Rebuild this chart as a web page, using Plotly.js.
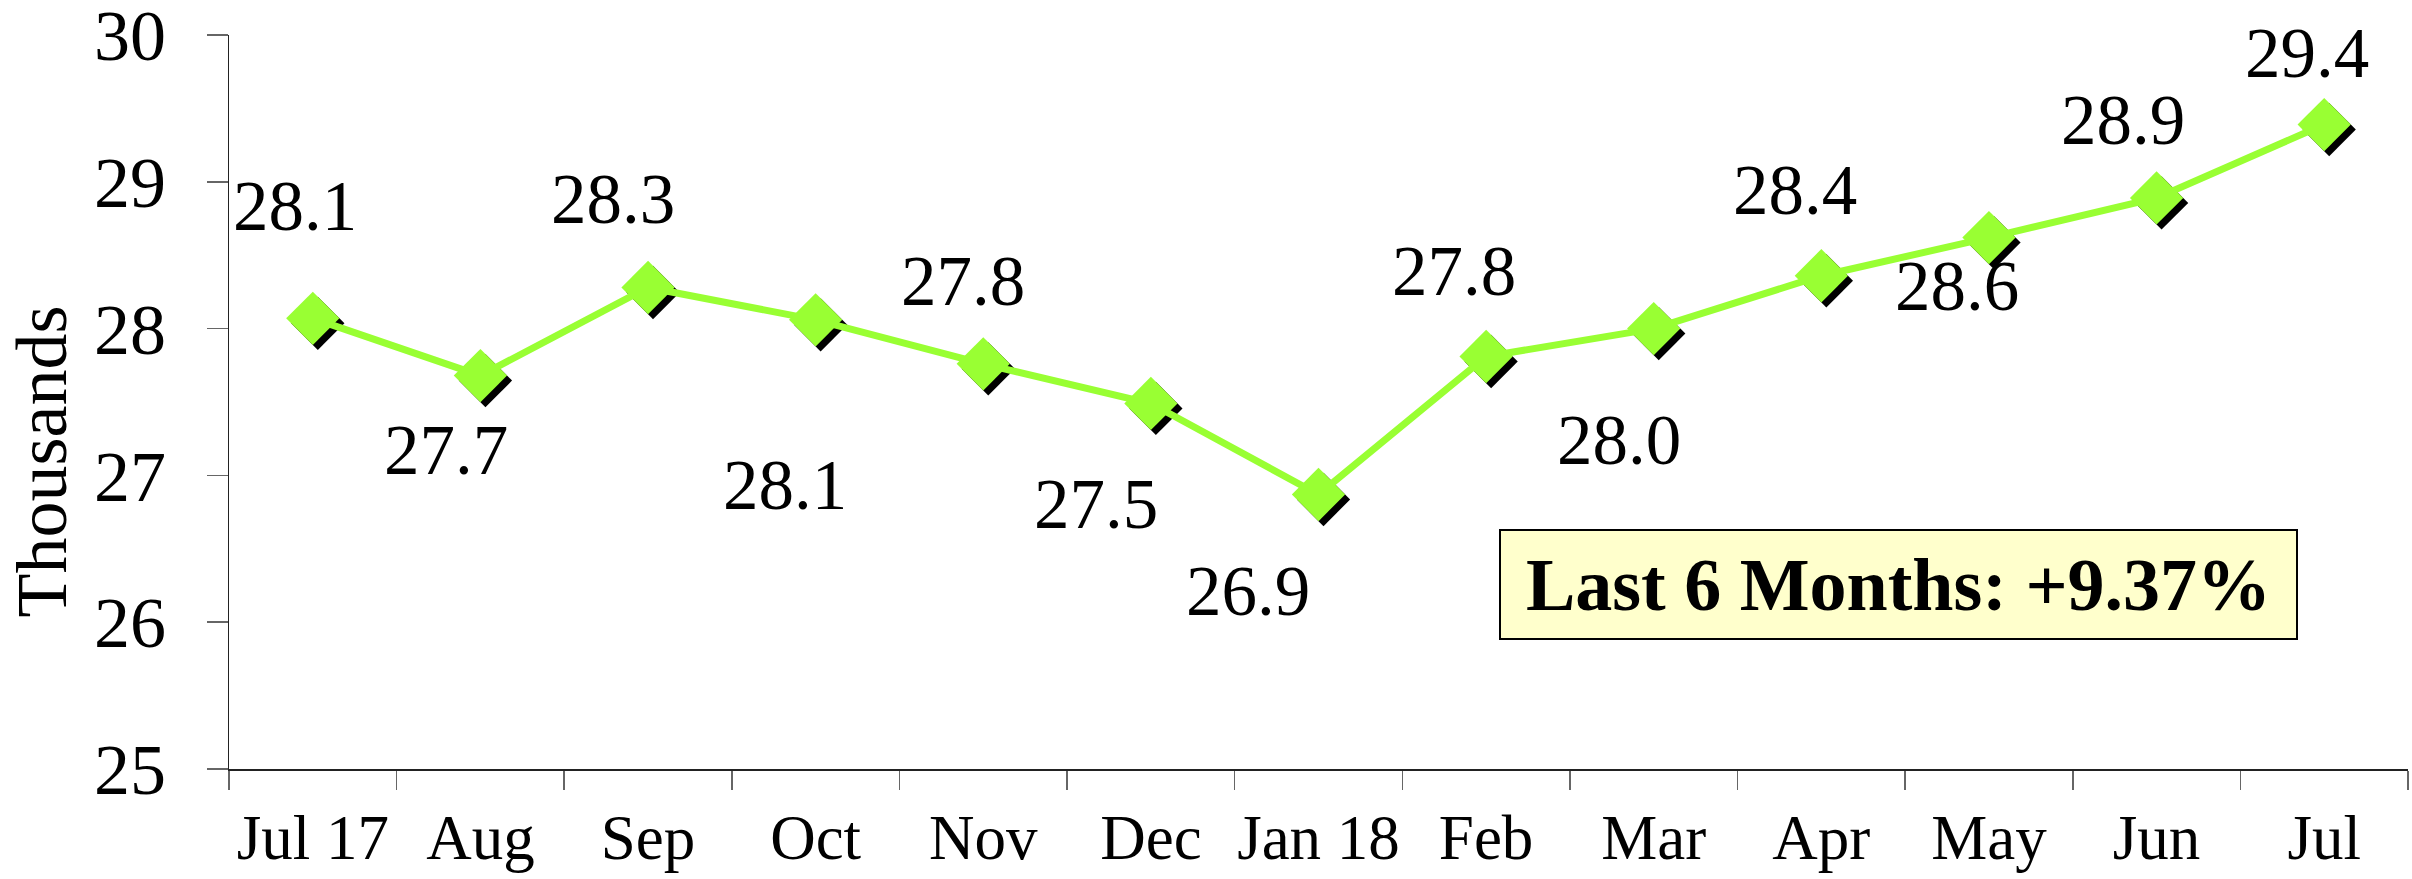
<!DOCTYPE html>
<html>
<head>
<meta charset="utf-8">
<script src="https://cdn.plot.ly/plotly-3.0.1.min.js"></script>
<style>
  html, body { margin: 0; padding: 0; background: #ffffff; }
  #chart { width: 2412px; height: 879px; }
</style>
</head>
<body>
<div id="chart"></div>
<script>
// ---- data ----
const months = ['Jul 17', 'Aug', 'Sep', 'Oct', 'Nov', 'Dec', 'Jan 18', 'Feb', 'Mar', 'Apr', 'May', 'Jun', 'Jul'];
const values = [28.07, 27.68, 28.28, 28.06, 27.76, 27.49, 26.87, 27.81, 28.00, 28.36, 28.62, 28.89, 29.39];
const valueLabels = ['28.1', '27.7', '28.3', '28.1', '27.8', '27.5', '26.9', '27.8', '28.0', '28.4', '28.6', '28.9', '29.4'];
const yTickVals = [25, 26, 27, 28, 29, 30];
const yTitle = 'Thousands';
const summaryText = 'Last 6 Months: +9.37%';

// ---- styling (label offsets in px: [dx, dy], dy positive = downward) ----
const labelOffsets = [[-18, -112], [-34, 74], [-35, -89], [-31, 165], [-20, -83], [-55, 101], [-71, 97],
                      [-32, -85], [-35, 111], [-26, -86], [-32, 48], [-34, -78], [-17, -72]];
const FONT = 'Liberation Serif, Times New Roman, serif';
const GREEN = '#99FF33';
const W = 2412, H = 879;
const M = { l: 229, r: 4, t: 35, b: 110 };
const plotW = W - M.l - M.r, plotH = H - M.t - M.b;
const xRange = [-0.5, months.length - 0.5];
const yRange = [25, 30];
const shadowPx = 5;
const xShift = shadowPx * (xRange[1] - xRange[0]) / plotW;
const yShift = shadowPx * (yRange[1] - yRange[0]) / plotH;

// invisible trace so the base (tick-bearing) axes are drawn
const base = {
  x: months, y: values, xaxis: 'x', yaxis: 'y',
  type: 'scatter', mode: 'markers', hoverinfo: 'skip',
  marker: { size: 1, opacity: 0 }
};
const shadow = {
  x: months, y: values, xaxis: 'x2', yaxis: 'y2',
  type: 'scatter', mode: 'markers', cliponaxis: false, hoverinfo: 'skip',
  marker: { symbol: 'diamond', size: 41, color: '#000000', line: { width: 0 } }
};
const main = {
  x: months, y: values, xaxis: 'x3', yaxis: 'y3',
  type: 'scatter', mode: 'lines+markers', cliponaxis: false,
  line: { color: GREEN, width: 7 },
  marker: { symbol: 'diamond', size: 41, color: GREEN, line: { width: 0 } }
};

const annotations = months.map((m, i) => ({
  x: m, y: values[i], xref: 'x3', yref: 'y3',
  text: valueLabels[i], showarrow: false,
  xanchor: 'center', yanchor: 'middle',
  xshift: labelOffsets[i][0], yshift: -labelOffsets[i][1],
  font: { family: FONT, size: 71, color: '#000000' }
}));
annotations.push({
  xref: 'paper', yref: 'paper', x: 0, y: 0.419, xshift: -187,
  xanchor: 'center', yanchor: 'middle', textangle: -90,
  text: yTitle, showarrow: false,
  font: { family: FONT, size: 72, color: '#000000' }
});
annotations.push({
  xref: 'paper', yref: 'paper', x: 0.766, y: 0.252,
  xanchor: 'center', yanchor: 'middle',
  text: '<b>' + summaryText + '</b>', showarrow: false,
  width: 795, height: 107, borderpad: 0,
  bgcolor: '#FFFFCC', bordercolor: '#000000', borderwidth: 2,
  font: { family: FONT, size: 74, color: '#000000' }
});

const hiddenAxis = { visible: false, showgrid: false, zeroline: false, fixedrange: true };

const layout = {
  width: W, height: H,
  margin: M,
  paper_bgcolor: '#ffffff', plot_bgcolor: '#ffffff',
  showlegend: false,
  xaxis: {
    type: 'category', categoryorder: 'array', categoryarray: months,
    range: xRange, tickson: 'boundaries', tickangle: 0,
    ticks: 'outside', ticklen: 19, tickwidth: 1.5, tickcolor: '#666666',
    showline: true, linecolor: '#222222', linewidth: 1.5,
    showgrid: false, zeroline: false,
    tickfont: { family: FONT, size: 63, color: '#000000' },
    ticklabelstandoff: 13, ticklabeloverflow: 'allow'
  },
  yaxis: {
    range: yRange, tickvals: yTickVals,
    ticks: 'outside', ticklen: 21, tickwidth: 1.5, tickcolor: '#666666',
    showline: true, linecolor: '#222222', linewidth: 1.5,
    showgrid: false, zeroline: false,
    tickfont: { family: FONT, size: 72, color: '#000000' },
    ticklabelstandoff: 26, ticklabeloverflow: 'allow'
  },
  xaxis2: Object.assign({}, hiddenAxis, { type: 'category', categoryorder: 'array', categoryarray: months,
    overlaying: 'x', anchor: 'y2', range: [xRange[0] - xShift, xRange[1] - xShift] }),
  yaxis2: Object.assign({}, hiddenAxis, { overlaying: 'y', anchor: 'x2', range: [yRange[0] + yShift, yRange[1] + yShift] }),
  xaxis3: Object.assign({}, hiddenAxis, { type: 'category', categoryorder: 'array', categoryarray: months,
    overlaying: 'x', anchor: 'y3', range: xRange }),
  yaxis3: Object.assign({}, hiddenAxis, { overlaying: 'y', anchor: 'x3', range: yRange }),
  annotations: annotations
};

Plotly.newPlot('chart', [base, shadow, main], layout, { staticPlot: true, displayModeBar: false });
</script>
</body>
</html>
